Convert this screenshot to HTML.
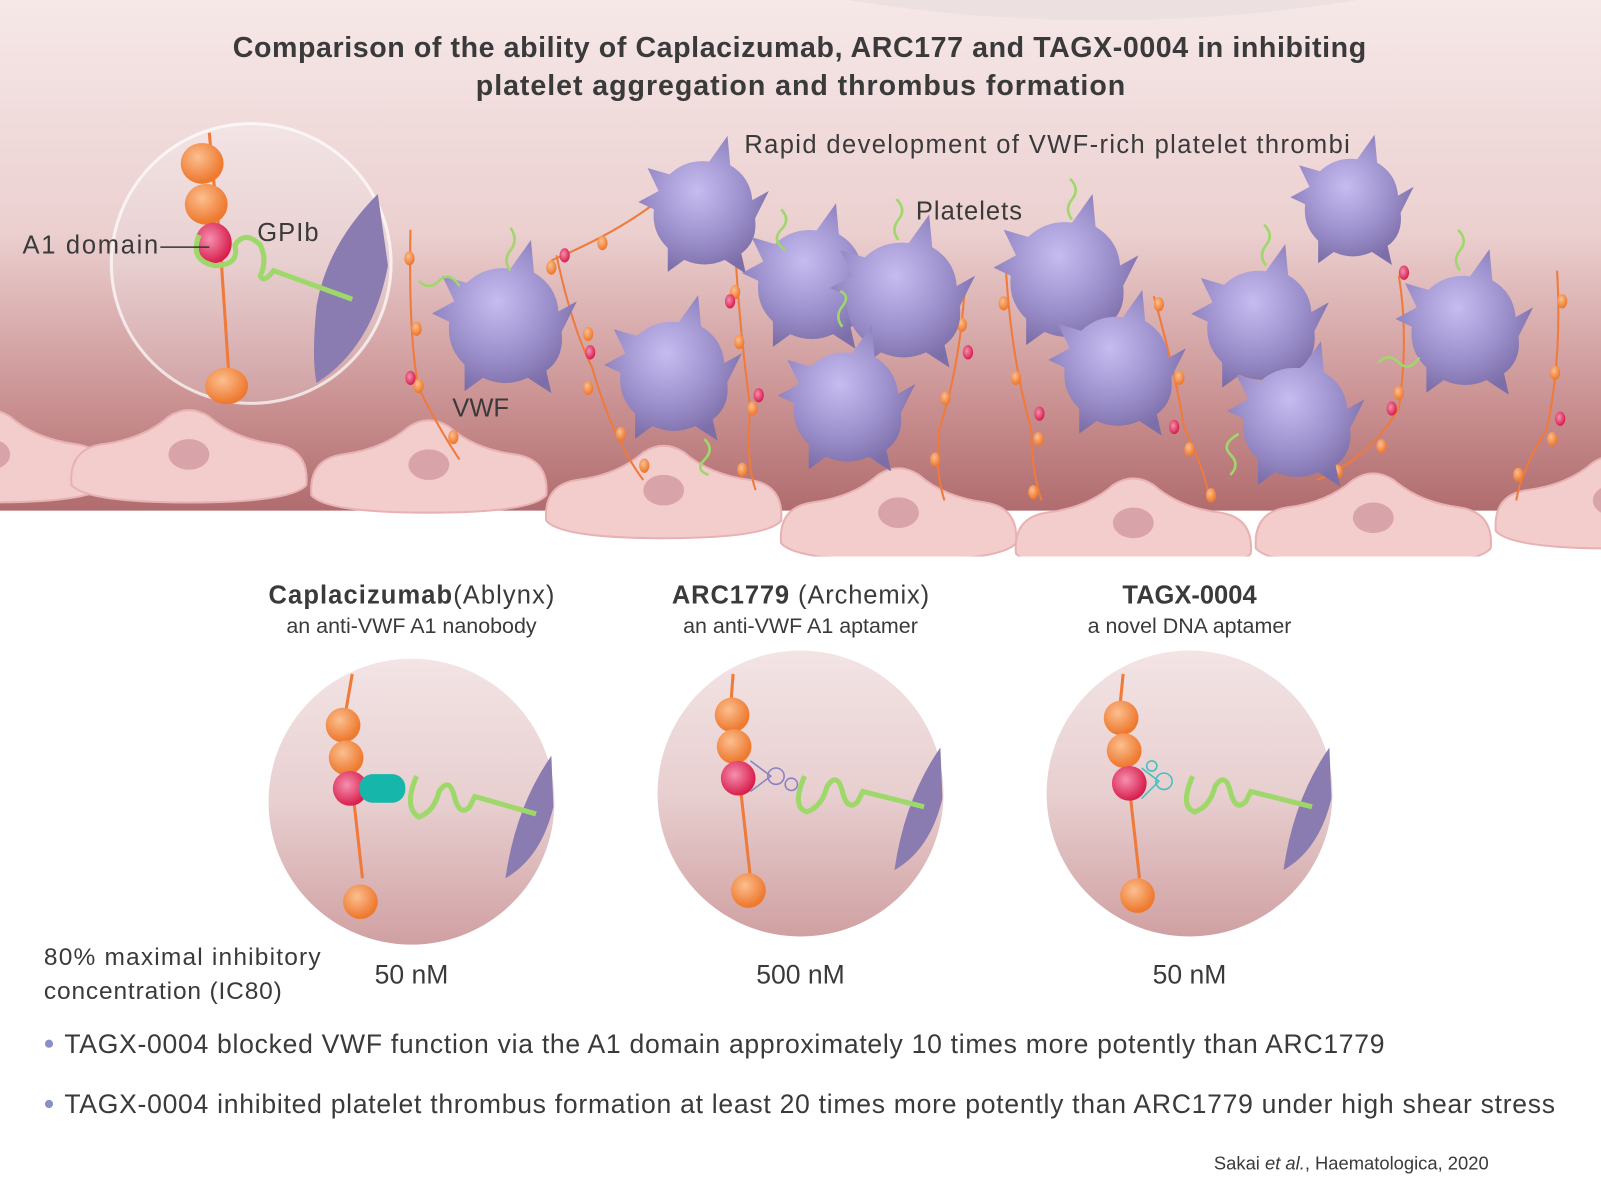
<!DOCTYPE html>
<html><head><meta charset="utf-8"><style>
html,body{margin:0;padding:0;background:#fff;}
svg{display:block;}
text{font-family:"Liberation Sans",sans-serif;fill:#3a3a3a;}
</style></head><body>
<svg width="1601" height="1201" viewBox="0 0 1568 1176" preserveAspectRatio="none" xmlns="http://www.w3.org/2000/svg">
<defs>
<linearGradient id="bg" x1="0" y1="0" x2="0" y2="1">
<stop offset="0" stop-color="#f6e8e8"/><stop offset="0.45" stop-color="#ecd0d0"/><stop offset="0.8" stop-color="#c98f90"/><stop offset="1" stop-color="#b06c6e"/></linearGradient>
<linearGradient id="ins" x1="0" y1="0" x2="0" y2="1">
<stop offset="0" stop-color="#f3e4e5"/><stop offset="0.5" stop-color="#e8cfd0"/><stop offset="1" stop-color="#d0a0a2"/></linearGradient>
<radialGradient id="pl" cx="0.45" cy="0.4" r="0.6"><stop offset="0" stop-color="#c6bcf0"/><stop offset="0.6" stop-color="#9c90cc"/><stop offset="1" stop-color="#7c6ea8"/></radialGradient>
<radialGradient id="or" cx="0.4" cy="0.35" r="0.6"><stop offset="0" stop-color="#fbbf90"/><stop offset="1" stop-color="#ee7a30"/></radialGradient>
<radialGradient id="rd" cx="0.4" cy="0.4" r="0.6"><stop offset="0" stop-color="#f590b0"/><stop offset="1" stop-color="#d81e4c"/></radialGradient>
<g id="P"><path d="M-50,-20 L-62,-45 L-38,-38 Q-20,-55 5,-52 L25,-80 L28,-48 Q50,-35 52,-10 L70,-20 L55,10 Q58,35 40,48 L45,70 L22,55 Q0,65 -22,55 L-40,68 L-40,42 Q-58,25 -55,0 L-72,-8 Z" fill="url(#pl)"/></g>
<g id="C"><path d="M-115,45 Q-118,10 -85,5 Q-45,0 -20,-22 Q0,-35 20,-22 Q45,0 85,5 Q118,10 115,45 Q100,62 0,62 Q-100,62 -115,45 Z" fill="#f3cccc" stroke="#e8b2b4" stroke-width="2"/><ellipse cx="0" cy="15" rx="20" ry="15" fill="#d9a3aa"/></g>
</defs>
<rect x="0" y="0" width="1568" height="500" fill="url(#bg)"/>
<path d="M830,0 Q1080,40 1330,0 Z" fill="#ede0e1"/>
<use href="#C" x="-10" y="430"/><use href="#C" x="185" y="430"/><use href="#C" x="420" y="440"/><use href="#C" x="650" y="465"/><use href="#C" x="880" y="487"/><use href="#C" x="1110" y="497"/><use href="#C" x="1345" y="492"/><use href="#C" x="1580" y="475"/>
<rect x="0" y="545" width="1568" height="640" fill="#fff"/>
<g fill="none" stroke="#ef7a3a" stroke-width="2">
<path d="M402,225 Q400,330 410,380 Q430,420 450,450"/><path d="M545,250 Q560,320 580,360 Q600,430 630,470"/><path d="M540,255 Q600,230 640,200"/><path d="M720,245 Q725,330 735,400 Q730,450 740,480"/><path d="M945,280 Q940,360 920,420 Q915,460 925,490"/><path d="M985,260 Q990,350 1010,420 Q1010,460 1020,490"/><path d="M1130,290 Q1150,360 1160,420 Q1180,460 1185,490"/><path d="M1370,270 Q1380,330 1370,400 Q1340,450 1290,470"/><path d="M1525,265 Q1530,350 1515,420 Q1490,460 1485,490"/>
</g>
<g fill="url(#or)">
<ellipse cx="401" cy="253" rx="5" ry="7"/><ellipse cx="408" cy="322" rx="5" ry="7"/><ellipse cx="410" cy="378" rx="5" ry="7"/><ellipse cx="444" cy="428" rx="5" ry="7"/><ellipse cx="576" cy="327" rx="5" ry="7"/><ellipse cx="576" cy="380" rx="5" ry="7"/><ellipse cx="608" cy="425" rx="5" ry="7"/><ellipse cx="631" cy="456" rx="5" ry="7"/><ellipse cx="590" cy="238" rx="5" ry="7"/><ellipse cx="540" cy="262" rx="5" ry="7"/><ellipse cx="720" cy="286" rx="5" ry="7"/><ellipse cx="724" cy="335" rx="5" ry="7"/><ellipse cx="737" cy="400" rx="5" ry="7"/><ellipse cx="727" cy="460" rx="5" ry="7"/><ellipse cx="942" cy="318" rx="5" ry="7"/><ellipse cx="926" cy="390" rx="5" ry="7"/><ellipse cx="916" cy="450" rx="5" ry="7"/><ellipse cx="983" cy="297" rx="5" ry="7"/><ellipse cx="995" cy="370" rx="5" ry="7"/><ellipse cx="1017" cy="430" rx="5" ry="7"/><ellipse cx="1012" cy="482" rx="5" ry="7"/><ellipse cx="1135" cy="298" rx="5" ry="7"/><ellipse cx="1155" cy="370" rx="5" ry="7"/><ellipse cx="1165" cy="440" rx="5" ry="7"/><ellipse cx="1186" cy="485" rx="5" ry="7"/><ellipse cx="1370" cy="385" rx="5" ry="7"/><ellipse cx="1353" cy="437" rx="5" ry="7"/><ellipse cx="1310" cy="462" rx="5" ry="7"/><ellipse cx="1530" cy="295" rx="5" ry="7"/><ellipse cx="1523" cy="365" rx="5" ry="7"/><ellipse cx="1520" cy="430" rx="5" ry="7"/><ellipse cx="1487" cy="465" rx="5" ry="7"/>
</g>
<g fill="url(#rd)"><ellipse cx="402" cy="370" rx="5" ry="7"/><ellipse cx="578" cy="345" rx="5" ry="7"/><ellipse cx="553" cy="250" rx="5" ry="7"/><ellipse cx="743" cy="387" rx="5" ry="7"/><ellipse cx="948" cy="345" rx="5" ry="7"/><ellipse cx="1018" cy="405" rx="5" ry="7"/><ellipse cx="1150" cy="418" rx="5" ry="7"/><ellipse cx="1363" cy="400" rx="5" ry="7"/><ellipse cx="1528" cy="410" rx="5" ry="7"/><ellipse cx="715" cy="295" rx="5" ry="7"/><ellipse cx="1375" cy="267" rx="5" ry="7"/></g>
<use href="#P" transform="translate(495,315)"/>
<use href="#P" transform="translate(690,205) scale(0.9)"/>
<use href="#P" transform="translate(795,275) scale(0.95)"/>
<use href="#P" transform="translate(885,290) scale(1.0)"/>
<use href="#P" transform="translate(660,365) scale(0.95)"/>
<use href="#P" transform="translate(830,395) scale(0.95)"/>
<use href="#P" transform="translate(1045,270) scale(1.0)"/>
<use href="#P" transform="translate(1095,360) scale(0.95)"/>
<use href="#P" transform="translate(1235,315) scale(0.95)"/>
<use href="#P" transform="translate(1270,410) scale(0.95)"/>
<use href="#P" transform="translate(1325,200) scale(0.85)"/>
<use href="#P" transform="translate(1435,320) scale(0.95)"/>
<g fill="none" stroke="#9fd86a" stroke-width="2.5">
<path d="M500,265 q-8,-10 0,-20 q8,-10 0,-22"/><path d="M880,235 q-8,-10 0,-20 q8,-10 -2,-20"/><path d="M1050,215 q-8,-10 0,-20 q8,-10 -2,-20"/><path d="M1240,260 q-8,-10 0,-20 q8,-10 -2,-20"/><path d="M1430,265 q-8,-10 0,-20 q8,-10 -2,-20"/><path d="M765,205 q10,10 0,20 q-10,10 4,20"/><path d="M825,320 q-8,-10 0,-20 q8,-10 -2,-15"/><path d="M690,430 q10,10 0,20 q-10,10 4,15"/><path d="M1205,465 q10,-10 0,-20 q-10,-10 8,-20"/><path d="M1350,355 q10,-10 20,0 q10,10 20,-5"/><path d="M410,275 q10,10 20,0 q10,-10 20,5"/>
</g>
<ellipse cx="246" cy="258" rx="137" ry="137" fill="url(#ins)" stroke="#fff" stroke-opacity="0.7" stroke-width="3"/>
<path d="M370,190 Q320,240 310,300 Q305,350 310,375 Q365,340 380,260 Z" fill="#8a7cb0"/>
<path d="M205,130 L208,165 L215,230 L225,380" fill="none" stroke="#ef7a3a" stroke-width="3"/>
<ellipse cx="198" cy="160" rx="21" ry="20" fill="url(#or)"/><ellipse cx="202" cy="200" rx="21" ry="20" fill="url(#or)"/>
<ellipse cx="209" cy="238" rx="18" ry="20" fill="url(#rd)"/>
<ellipse cx="222" cy="378" rx="21" ry="18" fill="url(#or)"/>
<path d="M195,230 Q185,255 210,260 Q235,260 230,240 Q240,225 255,240 Q262,255 255,270 Q258,278 268,265 L345,293" fill="none" stroke="#9fd86a" stroke-width="5"/>
<line x1="157" y1="242" x2="205" y2="242" stroke="#333" stroke-width="1.5"/>
<text x="22" y="248" font-size="25" textLength="133">A1 domain</text>
<text x="252" y="236" font-size="25" textLength="60">GPIb</text>
<text x="443" y="408" font-size="25">VWF</text>
<text x="897" y="215" font-size="25" textLength="104">Platelets</text>
<text x="729" y="150" font-size="25" textLength="593">Rapid development of VWF-rich platelet thrombi</text>
<text x="228" y="56" font-size="28" font-weight="bold" textLength="1110">Comparison of the ability of Caplacizumab, ARC177 and TAGX-0004 in inhibiting</text>
<text x="466" y="93" font-size="28" font-weight="bold" textLength="636">platelet aggregation and thrombus formation</text>
<g>
<ellipse cx="403" cy="785" rx="140" ry="140" fill="url(#ins)"/>
<path d="M540,740 Q505,790 495,860 Q530,840 542,790 Z" fill="#8a7cb0"/>
<path d="M345,660 L338,700 L345,770 L355,860" fill="none" stroke="#ef7a3a" stroke-width="3"/>
<circle cx="336" cy="710" r="17" fill="url(#or)"/><circle cx="339" cy="742" r="17" fill="url(#or)"/><circle cx="343" cy="772" r="17" fill="url(#rd)"/><circle cx="353" cy="883" r="17" fill="url(#or)"/>
<rect x="352" y="758" width="45" height="28" rx="13" fill="#16b6aa"/>
<path d="M408,760 Q395,790 410,800 Q425,795 430,775 Q440,760 445,780 Q450,800 460,790 L465,780 L525,797" fill="none" stroke="#9fd86a" stroke-width="5"/>
</g>
<g>
<ellipse cx="784" cy="777" rx="140" ry="140" fill="url(#ins)"/>
<path d="M921,732 Q886,782 876,852 Q911,832 923,782 Z" fill="#8a7cb0"/>
<path d="M718,660 L715,700 L725,770 L735,860" fill="none" stroke="#ef7a3a" stroke-width="3"/>
<circle cx="717" cy="700" r="17" fill="url(#or)"/><circle cx="719" cy="731" r="17" fill="url(#or)"/><circle cx="723" cy="762" r="17" fill="url(#rd)"/><circle cx="733" cy="872" r="17" fill="url(#or)"/>
<g fill="none" stroke="#8880c0" stroke-width="1.5"><path d="M735,745 L755,760 L735,775"/><circle cx="760" cy="760" r="8"/><circle cx="775" cy="768" r="6"/></g>
<path d="M788,760 Q775,790 790,795 Q805,790 810,770 Q820,755 825,775 Q830,795 840,785 L845,775 L905,790" fill="none" stroke="#9fd86a" stroke-width="5"/>
</g>
<g>
<ellipse cx="1165" cy="777" rx="140" ry="140" fill="url(#ins)"/>
<path d="M1302,732 Q1267,782 1257,852 Q1292,832 1304,782 Z" fill="#8a7cb0"/>
<path d="M1100,660 L1096,700 L1106,770 L1116,860" fill="none" stroke="#ef7a3a" stroke-width="3"/>
<circle cx="1098" cy="703" r="17" fill="url(#or)"/><circle cx="1101" cy="735" r="17" fill="url(#or)"/><circle cx="1106" cy="767" r="17" fill="url(#rd)"/><circle cx="1114" cy="877" r="17" fill="url(#or)"/>
<g fill="none" stroke="#40c0c0" stroke-width="1.5"><path d="M1118,752 L1135,765 L1118,782"/><circle cx="1140" cy="765" r="8"/><circle cx="1128" cy="750" r="5"/></g>
<path d="M1168,760 Q1155,790 1170,795 Q1185,790 1190,770 Q1200,755 1205,775 Q1210,795 1220,785 L1225,775 L1285,790" fill="none" stroke="#9fd86a" stroke-width="5"/>
</g>
<text x="263" y="591" font-size="25" textLength="280"><tspan font-weight="bold">Caplacizumab</tspan>(Ablynx)</text>
<text x="403" y="620" font-size="21" text-anchor="middle">an anti-VWF A1 nanobody</text>
<text x="658" y="591" font-size="25" textLength="252"><tspan font-weight="bold">ARC1779</tspan> (Archemix)</text>
<text x="784" y="620" font-size="21" text-anchor="middle">an anti-VWF A1 aptamer</text>
<text x="1165" y="591" font-size="25" text-anchor="middle" font-weight="bold">TAGX-0004</text>
<text x="1165" y="620" font-size="21" text-anchor="middle">a novel DNA aptamer</text>
<text x="43" y="945" font-size="24" textLength="271">80% maximal inhibitory</text>
<text x="43" y="978" font-size="24" textLength="233">concentration (IC80)</text>
<text x="403" y="963" font-size="26" text-anchor="middle">50 nM</text>
<text x="784" y="963" font-size="26" text-anchor="middle">500 nM</text>
<text x="1165" y="963" font-size="26" text-anchor="middle">50 nM</text>
<circle cx="48" cy="1022" r="4" fill="#8890c8"/>
<text x="63" y="1031" font-size="26" textLength="1293">TAGX-0004 blocked VWF function via the A1 domain approximately 10 times more potently than ARC1779</text>
<circle cx="48" cy="1081" r="4" fill="#8890c8"/>
<text x="63" y="1090" font-size="26" textLength="1460">TAGX-0004 inhibited platelet thrombus formation at least 20 times more potently than ARC1779 under high shear stress</text>
<text x="1458" y="1145" font-size="18" text-anchor="end">Sakai <tspan font-style="italic">et al.</tspan>, Haematologica, 2020</text>
</svg>
</body></html>
